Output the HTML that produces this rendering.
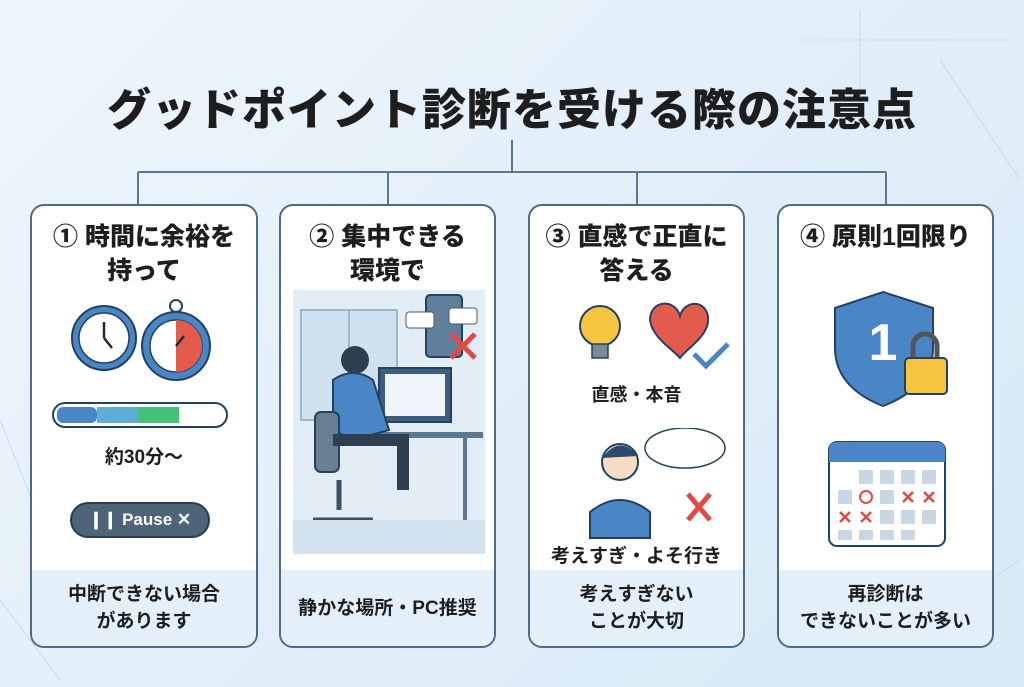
<!DOCTYPE html>
<html><head><meta charset="utf-8"><style>
*{margin:0;padding:0;box-sizing:border-box}
body{width:1024px;height:687px;overflow:hidden;position:relative;background:linear-gradient(135deg,#eef6fc 0%,#e2eff9 50%,#d6e9f6 100%);font-family:"Liberation Sans","Noto Sans CJK JP",sans-serif;color:#1e1e1e}
.t{position:absolute;left:0;width:1024px;top:74px;text-align:center;font-size:44px;font-weight:900;letter-spacing:1px}
.card{position:absolute;top:204px;height:444px;background:#fff;border:2px solid #4d6b88;border-radius:14px;overflow:hidden}
.h{position:absolute;left:0;right:0;top:14px;text-align:center;font-size:25px;font-weight:900;line-height:34px}
.f{position:absolute;left:0;right:0;bottom:0;height:76px;background:#e3f0fa;display:flex;align-items:center;justify-content:center;text-align:center;font-size:19px;font-weight:700;line-height:27px}
.lb{position:absolute;left:0;right:0;text-align:center;font-weight:700;font-size:18px}
svg{position:absolute}
</style></head><body>
<svg style="left:0;top:0" width="1024" height="687">
<g stroke="#c9dcec" stroke-width="1" fill="none"><path d="M800 40 L1010 40 M860 10 L860 120 M940 60 L1020 180 M0 420 L40 520 M0 600 L60 680 M960 600 L1020 560"/></g>
<g stroke="#5c7891" stroke-width="2" fill="none"><path d="M512 140 V172 M138 172 H886 M138 172 V204 M388 172 V204 M637 172 V204 M886 172 V204"/></g>
</svg>
<div class="t">グッドポイント診断を受ける際の注意点</div>

<div class="card" style="left:30px;width:228px">
<div class="h">① 時間に余裕を<br>持って</div>
<svg style="left:36px;top:92px" width="150" height="90">
<circle cx="36" cy="40" r="32" fill="#4a86c5" stroke="#23425f" stroke-width="2"/><circle cx="36" cy="40" r="25" fill="#fff" stroke="#23425f" stroke-width="1.5"/>
<path d="M36 40 V24 M36 40 L44 50" stroke="#1e2a38" stroke-width="2.5"/>
<circle cx="108" cy="48" r="34" fill="#4a86c5" stroke="#23425f" stroke-width="2"/><circle cx="108" cy="48" r="26" fill="#fff" stroke="#23425f" stroke-width="1.5"/>
<path d="M108 22 A26 26 0 0 1 108 74 Z" fill="#e35b4d"/><circle cx="108" cy="8" r="6" fill="#fff" stroke="#23425f" stroke-width="2"/><path d="M108 48 L116 38" stroke="#1e2a38" stroke-width="2.5"/>
</svg>
<svg style="left:20px;top:196px" width="180" height="28"><rect x="1" y="1" width="174" height="24" rx="12" fill="#fff" stroke="#23425f" stroke-width="2"/><rect x="5" y="5" width="40" height="16" rx="6" fill="#4a86c5"/><rect x="45" y="5" width="40" height="16" fill="#5aaed8"/><rect x="85" y="5" width="42" height="16" fill="#45c17a"/></svg>
<div class="lb" style="top:236px;font-size:19px">約30分〜</div>
<div style="position:absolute;left:38px;top:296px;width:140px;height:36px;border-radius:18px;background:#4f6478;border:2px solid #2b3d4f;color:#fff;font-size:17px;font-weight:700;line-height:32px;text-align:center">❙❙ Pause ✕</div>
<div class="f">中断できない場合<br>があります</div>
</div>

<div class="card" style="left:279px;width:217px">
<div class="h">② 集中できる<br>環境で</div>
<svg style="left:12px;top:84px" width="192" height="264">
<rect width="192" height="264" fill="#e2edf6"/><rect x="8" y="20" width="96" height="110" fill="#cfe0ee" stroke="#9fb6cb" stroke-width="2"/><path d="M56 20 V130" stroke="#9fb6cb" stroke-width="2"/>
<rect x="133" y="5" width="36" height="62" rx="4" fill="#5f7f9c" stroke="#23425f" stroke-width="2"/><rect x="113" y="22" width="28" height="16" rx="3" fill="#fff" stroke="#555"/><rect x="156" y="18" width="28" height="16" rx="3" fill="#fff" stroke="#555"/>
<path d="M158 44 L182 68 M182 44 L158 68" stroke="#e04a44" stroke-width="5"/>
<rect x="86" y="78" width="72" height="54" fill="#3d5d7e" stroke="#23425f" stroke-width="2"/><rect x="92" y="84" width="60" height="42" fill="#eef4fa"/>
<rect x="40" y="142" width="150" height="6" fill="#5c7891"/><path d="M172 148 V230" stroke="#5c7891" stroke-width="4"/>
<circle cx="62" cy="70" r="14" fill="#2c3e50"/><path d="M40 90 Q60 76 80 90 L96 140 L60 150 L40 140 Z" fill="#4a86c5" stroke="#23425f" stroke-width="2"/>
<rect x="22" y="122" width="24" height="60" rx="6" fill="#6b7f92" stroke="#23425f" stroke-width="2"/><path d="M40 150 H110 V200" stroke="#2c3e50" stroke-width="12" fill="none"/>
<path d="M46 190 V220 M20 230 H80" stroke="#3d4f61" stroke-width="5"/>
<rect y="230" width="192" height="34" fill="#d3e2ef"/>
</svg>
<div class="f">静かな場所・PC推奨</div>
</div>

<div class="card" style="left:528px;width:217px">
<div class="h">③ 直感で正直に<br>答える</div>
<svg style="left:30px;top:88px" width="170" height="80">
<circle cx="40" cy="32" r="20" fill="#f5c542" stroke="#23425f" stroke-width="2"/><rect x="32" y="50" width="16" height="14" fill="#7b8a99" stroke="#23425f" stroke-width="1.5"/>
<path d="M90 26 C90 6 115 4 120 22 C125 4 150 6 148 28 C146 44 125 56 120 64 C114 56 92 44 90 26Z" fill="#e35b4d" stroke="#23425f" stroke-width="2"/>
<path d="M134 60 L146 72 L168 50" stroke="#4a86c5" stroke-width="5" fill="none"/>
</svg>
<div class="lb" style="top:175px">直感・本音</div>
<svg style="left:40px;top:222px" width="160" height="112">
<circle cx="50" cy="34" r="18" fill="#f6dcc4" stroke="#23425f" stroke-width="2"/><path d="M32 30 Q50 6 68 28" fill="#2c4a6e"/>
<path d="M20 110 V84 Q50 60 80 84 V110Z" fill="#4a86c5" stroke="#23425f" stroke-width="2"/>
<ellipse cx="115" cy="20" rx="40" ry="20" fill="#fff" stroke="#23425f" stroke-width="1.5"/>
<path d="M118 66 L140 92 M140 66 L118 92" stroke="#e04a44" stroke-width="5"/>
</svg>
<div class="lb" style="top:335px;font-size:19px">考えすぎ・よそ行き</div>
<div class="f">考えすぎない<br>ことが大切</div>
</div>

<div class="card" style="left:777px;width:217px">
<div class="h">④ 原則1回限り</div>
<svg style="left:54px;top:82px" width="120" height="120">
<path d="M50 4 L100 20 V60 C100 90 76 108 50 118 C24 108 2 90 2 60 V20Z" fill="#4a86c5" stroke="#23425f" stroke-width="2"/>
<text x="50" y="72" text-anchor="middle" font-size="52" font-weight="900" fill="#fff" font-family="Liberation Sans">1</text>
<path d="M80 70 V58 A12 12 0 0 1 104 58 V70" stroke="#555" stroke-width="5" fill="none"/><rect x="72" y="70" width="42" height="36" rx="4" fill="#f5c542" stroke="#23425f" stroke-width="2"/>
</svg>
<svg style="left:48px;top:226px" width="122" height="116">
<rect x="2" y="10" width="116" height="104" rx="8" fill="#fff" stroke="#23425f" stroke-width="2"/><path d="M2 18 Q2 10 10 10 H110 Q118 10 118 18 V30 H2Z" fill="#4a86c5"/>
<g fill="#c9d7e3"><rect x="32" y="38" width="14" height="14"/><rect x="53" y="38" width="14" height="14"/><rect x="74" y="38" width="14" height="14"/><rect x="95" y="38" width="14" height="14"/><rect x="11" y="58" width="14" height="14"/><rect x="53" y="58" width="14" height="14"/><rect x="53" y="78" width="14" height="14"/><rect x="74" y="78" width="14" height="14"/><rect x="95" y="78" width="14" height="14"/><rect x="11" y="98" width="14" height="10"/><rect x="32" y="98" width="14" height="10"/><rect x="53" y="98" width="14" height="10"/><rect x="74" y="98" width="14" height="10"/></g>
<circle cx="39" cy="65" r="6" fill="none" stroke="#e04a44" stroke-width="2"/>
<path d="M76 60 L86 70 M86 60 L76 70 M97 60 L107 70 M107 60 L97 70 M13 80 L23 90 M23 80 L13 90 M34 80 L44 90 M44 80 L34 90" stroke="#e04a44" stroke-width="2.5"/>
</svg>
<div class="f">再診断は<br>できないことが多い</div>
</div>
</body></html>
